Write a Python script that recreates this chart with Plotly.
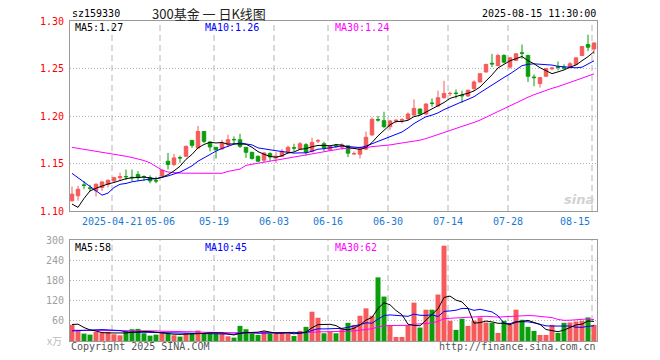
import plotly.graph_objects as go

# ---------------- data ----------------
dates = [
    "2025-04-10", "2025-04-11", "2025-04-14", "2025-04-15", "2025-04-16", "2025-04-17", "2025-04-18",
    "2025-04-21", "2025-04-22", "2025-04-23", "2025-04-24", "2025-04-25", "2025-04-28", "2025-04-29",
    "2025-04-30", "2025-05-06", "2025-05-07", "2025-05-08", "2025-05-09", "2025-05-12", "2025-05-13",
    "2025-05-14", "2025-05-15", "2025-05-16", "2025-05-19", "2025-05-20", "2025-05-21", "2025-05-22",
    "2025-05-23", "2025-05-26", "2025-05-27", "2025-05-28", "2025-05-29", "2025-05-30", "2025-06-03",
    "2025-06-04", "2025-06-05", "2025-06-06", "2025-06-09", "2025-06-10", "2025-06-11", "2025-06-12",
    "2025-06-13", "2025-06-16", "2025-06-17", "2025-06-18", "2025-06-19", "2025-06-20", "2025-06-23",
    "2025-06-24", "2025-06-25", "2025-06-26", "2025-06-27", "2025-06-30", "2025-07-01", "2025-07-02",
    "2025-07-03", "2025-07-04", "2025-07-07", "2025-07-08", "2025-07-09", "2025-07-10", "2025-07-11",
    "2025-07-14", "2025-07-15", "2025-07-16", "2025-07-17", "2025-07-18", "2025-07-21", "2025-07-22",
    "2025-07-23", "2025-07-24", "2025-07-25", "2025-07-28", "2025-07-29", "2025-07-30", "2025-07-31",
    "2025-08-01", "2025-08-04", "2025-08-05", "2025-08-06", "2025-08-07", "2025-08-08", "2025-08-11",
    "2025-08-12", "2025-08-13", "2025-08-14", "2025-08-15",
]

opens = [
    1.1108, 1.1160, 1.1274, 1.1242, 1.1212, 1.1247, 1.1281, 1.1316, 1.1350, 1.1363,
    1.1355, 1.1385, 1.1363, 1.1351, 1.1319, 1.1368, 1.1524, 1.1490, 1.1562, 1.1576,
    1.1743, 1.1663, 1.1837, 1.1726, 1.1670, 1.1653, 1.1698, 1.1753, 1.1750, 1.1670,
    1.1618, 1.1576, 1.1535, 1.1604, 1.1559, 1.1576, 1.1618, 1.1665, 1.1653, 1.1698,
    1.1628, 1.1737, 1.1708, 1.1642, 1.1688, 1.1672, 1.1686, 1.1600, 1.1598, 1.1651,
    1.1801, 1.1962, 1.1951, 1.1888, 1.1948, 1.1955, 1.1969, 1.2010, 1.2073, 1.2021,
    1.2136, 1.2105, 1.2192, 1.2235, 1.2241, 1.2216, 1.2210, 1.2289, 1.2358, 1.2463,
    1.2555, 1.2532, 1.2637, 1.2515, 1.2585, 1.2665, 1.2637, 1.2410, 1.2341, 1.2418,
    1.2498, 1.2518, 1.2512, 1.2515, 1.2543, 1.2637, 1.2752, 1.2706,
]
highs = [
    1.1257, 1.1264, 1.1316, 1.1275, 1.1292, 1.1316, 1.1333, 1.1361, 1.1403, 1.1437,
    1.1437, 1.1420, 1.1375, 1.1375, 1.1361, 1.1437, 1.1611, 1.1601, 1.1583, 1.1688,
    1.1750, 1.1896, 1.1840, 1.1733, 1.1674, 1.1750, 1.1802, 1.1785, 1.1813, 1.1674,
    1.1620, 1.1583, 1.1618, 1.1618, 1.1618, 1.1653, 1.1688, 1.1708, 1.1726, 1.1715,
    1.1771, 1.1757, 1.1729, 1.1690, 1.1706, 1.1713, 1.1690, 1.1626, 1.1679, 1.1836,
    1.1986, 1.2000, 1.2045, 1.1958, 1.1965, 1.1976, 1.2038, 1.2175, 1.2078, 1.2133,
    1.2185, 1.2266, 1.2370, 1.2255, 1.2280, 1.2266, 1.2275, 1.2376, 1.2452, 1.2550,
    1.2654, 1.2654, 1.2650, 1.2620, 1.2660, 1.2752, 1.2645, 1.2438, 1.2410, 1.2505,
    1.2515, 1.2574, 1.2543, 1.2567, 1.2615, 1.2735, 1.2856, 1.2772,
]
lows = [
    1.1098, 1.1108, 1.1229, 1.1205, 1.1153, 1.1212, 1.1247, 1.1299, 1.1316, 1.1326,
    1.1316, 1.1316, 1.1316, 1.1292, 1.1292, 1.1361, 1.1437, 1.1472, 1.1507, 1.1569,
    1.1663, 1.1653, 1.1715, 1.1628, 1.1552, 1.1646, 1.1674, 1.1698, 1.1663, 1.1559,
    1.1542, 1.1514, 1.1507, 1.1524, 1.1507, 1.1569, 1.1604, 1.1628, 1.1646, 1.1583,
    1.1618, 1.1715, 1.1628, 1.1635, 1.1661, 1.1644, 1.1567, 1.1591, 1.1553, 1.1644,
    1.1790, 1.1941, 1.1871, 1.1853, 1.1923, 1.1923, 1.1958, 1.2005, 1.2010, 1.2010,
    1.2098, 1.2098, 1.2185, 1.2210, 1.2185, 1.2140, 1.2205, 1.2264, 1.2355, 1.2460,
    1.2515, 1.2520, 1.2553, 1.2498, 1.2580, 1.2602, 1.2358, 1.2313, 1.2299, 1.2410,
    1.2480, 1.2480, 1.2487, 1.2498, 1.2535, 1.2630, 1.2682, 1.2654,
]
closes = [
    1.1177, 1.1229, 1.1271, 1.1240, 1.1281, 1.1306, 1.1323, 1.1351, 1.1361, 1.1361,
    1.1351, 1.1351, 1.1361, 1.1316, 1.1316, 1.1430, 1.1490, 1.1559, 1.1559, 1.1681,
    1.1691, 1.1837, 1.1733, 1.1674, 1.1646, 1.1715, 1.1750, 1.1750, 1.1681, 1.1618,
    1.1552, 1.1524, 1.1611, 1.1569, 1.1576, 1.1628, 1.1670, 1.1663, 1.1708, 1.1618,
    1.1722, 1.1740, 1.1663, 1.1686, 1.1684, 1.1696, 1.1609, 1.1605, 1.1651, 1.1776,
    1.1965, 1.1958, 1.1888, 1.1948, 1.1955, 1.1962, 1.2021, 1.2080, 1.2021, 1.2126,
    1.2133, 1.2192, 1.2238, 1.2238, 1.2238, 1.2213, 1.2272, 1.2358, 1.2445, 1.2543,
    1.2548, 1.2637, 1.2567, 1.2612, 1.2654, 1.2661, 1.2418, 1.2404, 1.2404, 1.2498,
    1.2505, 1.2512, 1.2505, 1.2550, 1.2612, 1.2731, 1.2724, 1.2769,
]
volumes = [
    48, 32, 22, 19, 27, 25, 27, 20, 17, 30,
    35, 36, 23, 16, 19, 27, 22, 17, 13, 23,
    23, 31, 23, 22, 22, 22, 14, 10, 45, 35,
    23, 18, 29, 23, 23, 23, 23, 15, 30, 42,
    87, 69, 23, 27, 23, 37, 54, 48, 75, 97,
    75, 189, 132, 45, 12, 12, 48, 114, 40, 93,
    93, 138, 283, 60, 33, 66, 45, 60, 70, 55,
    54, 24, 60, 48, 93, 63, 42, 30, 18, 18,
    48, 24, 54, 55, 58, 60, 70, 48,
]

# moving-average values for the first days (they need history before the window)
ma5_head = [1.1073, 1.1038, 1.1132, 1.1212]
ma10_head = [1.1396, 1.1350, 1.1306, 1.1257, 1.1212, 1.1167, 1.1188, 1.1247, 1.1281]
ma30_head = [1.1670, 1.1660, 1.1649, 1.1642, 1.1632, 1.1622, 1.1611, 1.1601, 1.1590, 1.1576,
             1.1563, 1.1549, 1.1531, 1.1507, 1.1465, 1.1431, 1.1410, 1.1403, 1.1399, 1.1398,
             1.1397, 1.1397, 1.1397, 1.1397, 1.1397, 1.1397, 1.1417, 1.1431, 1.1441]
vma5_head = [49, 50, 40, 33]
vma10_head = [30, 31, 32, 34, 34, 34, 33, 32, 31]
vma30_head = [32, 32, 32, 32, 32, 32, 31, 31, 31, 31, 31, 30, 30, 30, 30, 29, 29, 28, 28, 28,
              27, 27, 26, 26, 25, 25, 25, 24, 24]

tick_dates = ["2025-04-21", "2025-05-06", "2025-05-19", "2025-06-03", "2025-06-16",
              "2025-06-30", "2025-07-14", "2025-07-28", "2025-08-15"]
tick_texts = ["2025-04-21", "05-06", "05-19", "06-03", "06-16", "06-30", "07-14", "07-28", "08-15"]
price_ticks = [1.10, 1.15, 1.20, 1.25, 1.30]
vol_ticks = [60, 120, 180, 240, 300]


def moving_avg(vals, n, head):
    out = list(head)
    for i in range(len(head), len(vals)):
        out.append(sum(vals[i - n + 1:i + 1]) / n)
    return out


ma5 = moving_avg(closes, 5, ma5_head)
ma10 = moving_avg(closes, 10, ma10_head)
ma30 = moving_avg(closes, 30, ma30_head)
vma5 = moving_avg(volumes, 5, vma5_head)
vma10 = moving_avg(volumes, 10, vma10_head)
vma30 = moving_avg(volumes, 30, vma30_head)

# ---------------- styling ----------------
W, H = 660, 360
ML, MR, MT, MB = 70, 63, 21, 19
PW, PH = W - ML - MR, H - MT - MB
RED, GREEN = "#f65a5a", "#0a9e0a"
MONO = "DejaVu Sans Mono"
GRID = "#b4b4b4"


def px(X):
    return (X - ML) / PW


def py(Y):
    return (H - MB - Y) / PH


vol_colors = [RED if c >= o else GREEN for o, c in zip(opens, closes)]

fig = go.Figure()
fig.add_trace(go.Candlestick(
    x=dates, open=opens, high=highs, low=lows, close=closes,
    increasing=dict(line=dict(color=RED, width=1), fillcolor=RED),
    decreasing=dict(line=dict(color=GREEN, width=1), fillcolor=GREEN),
    whiskerwidth=0, hoverinfo="skip", xaxis="x", yaxis="y"))
for vals, col in ((ma30, "#ff00ff"), (ma10, "#0000ff"), (ma5, "#000000")):
    fig.add_trace(go.Scatter(x=dates, y=vals, mode="lines", line=dict(color=col, width=1),
                             hoverinfo="skip", xaxis="x", yaxis="y"))

fig.add_trace(go.Bar(x=dates, y=volumes, marker=dict(color=vol_colors, line=dict(width=0)),
                     hoverinfo="skip", xaxis="x2", yaxis="y2"))
for vals, col in ((vma30, "#ff00ff"), (vma10, "#0000ff"), (vma5, "#000000")):
    fig.add_trace(go.Scatter(x=dates, y=vals, mode="lines", line=dict(color=col, width=1),
                             hoverinfo="skip", xaxis="x2", yaxis="y2"))

price_dom = [py(211), 1.0]
vol_dom = [0.0, py(240)]
xr = [-1 / 3, len(dates) - 0.5]

fig.update_layout(
    width=W, height=H, margin=dict(l=ML, r=MR, t=MT, b=MB),
    paper_bgcolor="white", plot_bgcolor="white", showlegend=False,
    bargap=0.17, boxgap=0.17,
    xaxis=dict(type="category", categoryorder="array", categoryarray=dates, range=xr,
               domain=[0, 1], anchor="y", showticklabels=False, showgrid=False, zeroline=False,
               showline=True, mirror=True, linecolor="#999999", linewidth=1,
               rangeslider=dict(visible=False), fixedrange=True),
    xaxis2=dict(type="category", categoryorder="array", categoryarray=dates, range=xr,
                domain=[0, 1], anchor="y2", matches="x", showticklabels=False, showgrid=False,
                zeroline=False, showline=True, mirror=True, linecolor="#999999", linewidth=1,
                rangeslider=dict(visible=False)),
    yaxis=dict(domain=price_dom, range=[1.10, 1.30], tickvals=price_ticks,
               ticktext=[f"{v:.2f}" for v in price_ticks], tickfont=dict(family=MONO, size=10, color="#ff0000"),
               showgrid=True, gridcolor=GRID, griddash="1px,2px", gridwidth=1, zeroline=False,
               showline=True, mirror=True, linecolor="#999999", linewidth=1, ticks="", ticklabelstandoff=3),
    yaxis2=dict(domain=vol_dom, range=[0, 300], tickvals=vol_ticks,
                ticktext=[str(v) for v in vol_ticks], tickfont=dict(family=MONO, size=10, color="#a0a0a0"),
                showgrid=True, gridcolor=GRID, griddash="1px,2px", gridwidth=1, zeroline=False,
                showline=True, mirror=True, linecolor="#999999", linewidth=1, ticks="", ticklabelstandoff=3),
)

# vertical dashed grid lines and date labels
shapes = []
annotations = []
for d, t in zip(tick_dates, tick_texts):
    xi = dates.index(d) - 1 / 3
    for xref, yref in (("x", "y domain"), ("x2", "y2 domain")):
        shapes.append(dict(type="line", xref=xref, yref=yref, x0=xi, x1=xi, y0=0, y1=1,
                           line=dict(color=GRID, width=1, dash="6px,4px"), layer="below"))
    last = d == tick_dates[-1]
    annotations.append(dict(x=xi, xref="x", y=py(221), yref="paper", text=t, showarrow=False,
                            xanchor="right" if last else "center", yanchor="middle",
                            font=dict(family=MONO, size=10, color="#1a7ad4")))


def label(X, Y, text, color="#000000", anchor="left", size=10, family=MONO):
    annotations.append(dict(x=px(X), xref="paper", y=py(Y), yref="paper", text=text, showarrow=False,
                            xanchor=anchor, yanchor="middle", font=dict(family=family, size=size, color=color)))


label(70, 13, "sz159330")
label(209, 13, "300基金 一 日K线图", color="#222222", anchor="center", size=13, family="Noto Sans CJK SC")
label(598, 13, "2025-08-15 11:30:00", anchor="right")
label(73, 27, "MA5:1.27")
label(203, 27, "MA10:1.26", color="#0000ff")
label(333, 27, "MA30:1.24", color="#ff00ff")
label(73, 247, "MA5:58")
label(203, 247, "MA10:45", color="#0000ff")
label(333, 247, "MA30:62", color="#ff00ff")
label(69, 346, "Copyright 2025 SINA.COM", color="#555555")
label(598, 346, "http://finance.sina.com.cn", color="#555555", anchor="right")
label(64, 340, "x万", color="#bbbbbb", anchor="right", size=10, family="Noto Sans CJK SC")
label(579, 199, "<b><i>sina</i></b>", color="#d2d2d2", anchor="center", size=13, family="DejaVu Sans")

fig.update_layout(shapes=shapes, annotations=annotations)
fig.write_html("out.html", config={"displayModeBar": False},
               post_script="document.body.style.margin='0px';")
